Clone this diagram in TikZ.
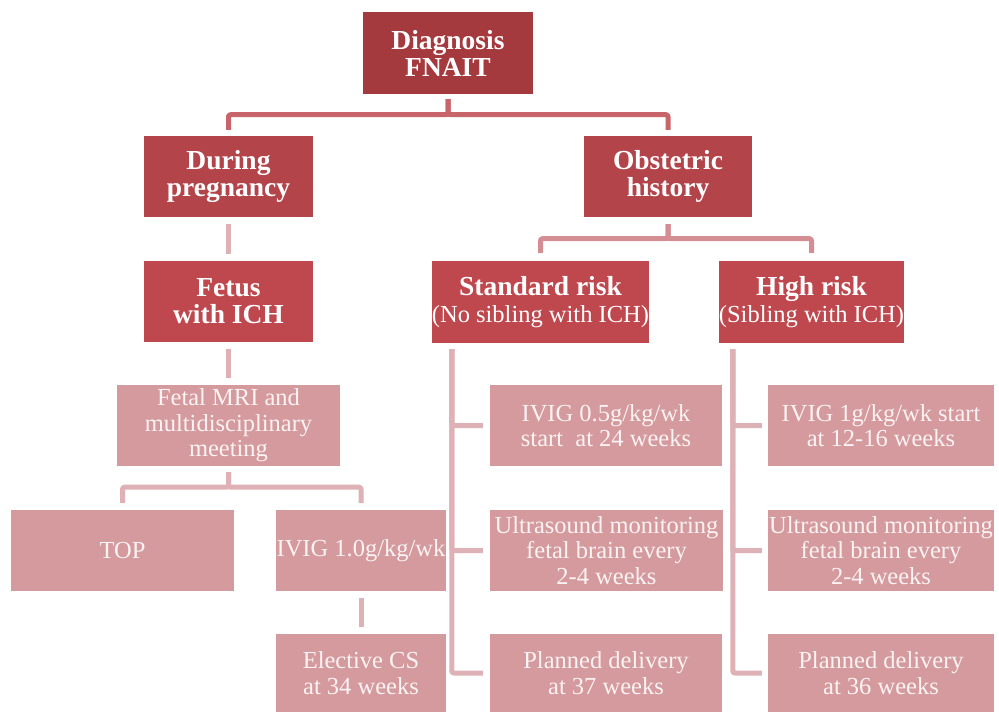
\documentclass[tikz,border=0pt]{standalone}
\usepackage{fontspec}
\setmainfont{Liberation Serif}
\definecolor{cDiag}{HTML}{A53A3E}
\definecolor{cLvlA}{HTML}{B2444A}
\definecolor{cLvlB}{HTML}{BF484E}
\definecolor{cLight}{HTML}{D49A9E}
\definecolor{cLightTxt}{HTML}{FBF3F3}
\definecolor{cConnA}{HTML}{C8656B}
\definecolor{cConnB}{HTML}{D38D93}
\definecolor{cConnC}{HTML}{DDB1B5}
\tikzset{
  boxbase/.style={rectangle, inner sep=0pt, align=center},
  hdrbox/.style={boxbase, text=white, font=\fontsize{27.5}{27}\selectfont\bfseries},
  subbox/.style={boxbase, text=white, font=\fontsize{24.5}{27}\selectfont},
  lightbox/.style={boxbase, fill=cLight, text=cLightTxt, font=\fontsize{24.5}{25.5}\selectfont},
  connbase/.style={line width=5pt, line join=round, rounded corners=2pt},
  connA/.style={connbase, draw=cConnA},
  connB/.style={connbase, draw=cConnB},
  connC/.style={connbase, draw=cConnC},
}
\begin{document}
\begin{tikzpicture}[x=1pt,y=-1pt]
\useasboundingbox[fill=white] (0,0) rectangle (999,712);
\begin{scope}
\clip (0,0) rectangle (999,712);
% dark boxes
\node[hdrbox, fill=cDiag, minimum width=170pt, minimum height=82pt] (diag) at (448,53) {Diagnosis\\FNAIT};
\node[hdrbox, fill=cLvlA, minimum width=169pt, minimum height=81pt] (dur) at (228.5,176.5) {During\\pregnancy};
\node[hdrbox, fill=cLvlA, minimum width=168pt, minimum height=81pt] (obs) at (668,176.5) {Obstetric\\history};
\node[hdrbox, fill=cLvlB, minimum width=169pt, minimum height=81pt] (fet) at (228.5,301.5) {Fetus\\with ICH};
\node[subbox, fill=cLvlB, minimum width=215pt, minimum height=82pt] (std) at (540.5,302) {{\fontsize{27.5}{27}\selectfont\bfseries Standard risk}\\(No sibling with ICH)};
\node[subbox, fill=cLvlB, minimum width=177pt, minimum height=82pt] (hi) at (811.5,302) {{\fontsize{27.5}{27}\selectfont\bfseries High risk}\\(Sibling with ICH)};
% light boxes
\node[lightbox, minimum width=223pt, minimum height=81pt] (mri) at (228.5,425.5) {Fetal MRI and\\multidisciplinary\\meeting};
\node[lightbox, minimum width=223pt, minimum height=81pt] (top) at (122.5,550.5) {TOP};
\node[lightbox, minimum width=170pt, minimum height=81pt] (iv1) at (361,550.5) {IVIG 1.0g/kg/wk};
\node[lightbox, minimum width=170pt, minimum height=78pt] (ecs) at (361,673) {Elective CS\\at 34 weeks};
\node[lightbox, minimum width=232pt, minimum height=81pt] (ivs) at (606,425.5) {IVIG 0.5g/kg/wk\\start\ \ at 24 weeks};
\node[lightbox, minimum width=233pt, minimum height=81pt] (uss) at (606.5,550.5) {Ultrasound monitoring\\fetal brain every\\2-4 weeks};
\node[lightbox, minimum width=232pt, minimum height=78pt] (pds) at (606,673) {Planned delivery\\at 37 weeks};
\node[lightbox, minimum width=226pt, minimum height=81pt] (ivh) at (881,425.5) {IVIG 1g/kg/wk start\\at 12-16 weeks};
\node[lightbox, minimum width=226pt, minimum height=81pt] (ush) at (881,550.5) {Ultrasound monitoring\\fetal brain every\\2-4 weeks};
\node[lightbox, minimum width=226pt, minimum height=78pt] (pdh) at (881,673) {Planned delivery\\at 36 weeks};
% connectors
\draw[connA] ([yshift=-5pt]diag.south) -- ++(0,15.5) -| ([yshift=6pt]dur.north);
\draw[connA] ([yshift=-5pt]diag.south) -- ++(0,15.5) -| ([yshift=6pt]obs.north);
\draw[connC] ([yshift=-7pt]dur.south) -- ([yshift=7pt]fet.north);
\draw[connB] ([yshift=-7pt]obs.south) -- ++(0,14.5) -| ([yshift=8pt]std.north);
\draw[connB] ([yshift=-7pt]obs.south) -- ++(0,14.5) -| ([yshift=8pt]hi.north);
\draw[connC] ([yshift=-7pt]fet.south) -- ([yshift=7pt]mri.north);
\draw[connC] ([yshift=-6pt]mri.south) -- ++(0,15) -| ([yshift=7pt]top.north);
\draw[connC] ([yshift=-6pt]mri.south) -- ++(0,15) -| ([yshift=7pt]iv1.north);
\draw[connC] ([yshift=-7pt]iv1.south) -- ([yshift=7pt]ecs.north);
\foreach \c in {ivs,uss,pds}{
  \draw[connC] ([xshift=20pt,yshift=-6pt]std.south west) |- ([xshift=-7pt]\c.west);
}
\foreach \c in {ivh,ush,pdh}{
  \draw[connC] ([xshift=14pt,yshift=-6pt]hi.south west) |- ([xshift=-6pt]\c.west);
}
\end{scope}
\end{tikzpicture}
\end{document}
